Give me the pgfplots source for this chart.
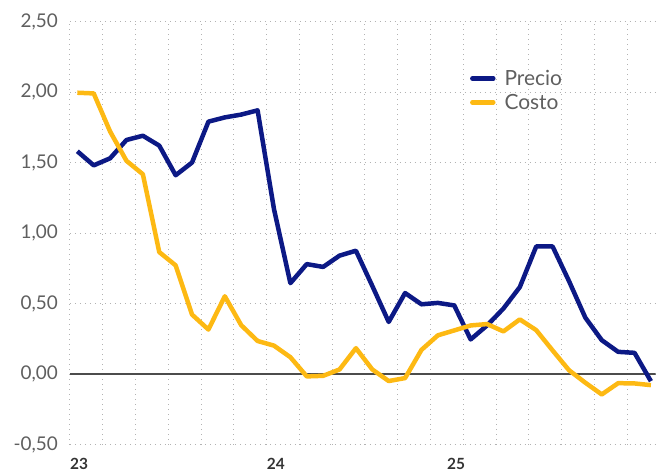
\documentclass[border=0pt]{standalone}
\usepackage{pgfplots}
\pgfplotsset{compat=1.18}
\usepackage{fontspec}
\setmainfont{Lato}
\definecolor{precio}{RGB}{12,25,133}
\definecolor{costo}{RGB}{253,185,19}
\definecolor{ticktext}{RGB}{95,95,95}
\begin{document}
\begin{tikzpicture}
\begin{axis}[
  scale only axis, width=586bp, height=423.5bp,
  xmin=0, xmax=35.73, ymin=-0.5, ymax=2.5,
  axis line style={draw=none},
  xtick={0,2,4,6,8,10,12,14,16,18,20,22,24,26,28,30,32,34},
  xticklabels={},
  extra x ticks={0,12,23},
  extra x tick labels={23,24,25},
  extra x tick style={grid=none, major tick length=0pt,
    xticklabel style={anchor=north west, inner sep=0pt, yshift=-13bp,
      font=\fontsize{15.5}{15.5}\selectfont\bfseries, text=black!80}},
  ytick={-0.5,0,0.5,1,1.5,2,2.5},
  yticklabels={{-0,50},{0,00},{0,50},{1,00},{1,50},{2,00},{2,50}},
  yticklabel style={font=\fontsize{19}{19}\selectfont, text=ticktext, anchor=east, inner sep=0pt, xshift=-12bp},
  major tick length=0pt,
  grid=major,
  major grid style={black!30, line width=1bp, dash pattern=on 1bp off 4bp},
  legend style={draw=none, fill=none, at={(0.683,0.89)}, anchor=north west,
    font=\fontsize{21}{21}\selectfont, text=ticktext, row sep=3bp, inner sep=0pt,
    cells={anchor=west},
    /tikz/every odd column/.append style={column sep=7bp}},
  legend image code/.code={\draw[#1, line width=4.5bp, line cap=round] (0bp,0bp) -- (21bp,0bp);},
  line join=round,
]
\addplot[black!70, line width=1.3bp, forget plot] coordinates {(0,0) (35.73,0)};
\addplot[precio, line width=4.5bp] coordinates {
(0.45,1.58) (1.45,1.48) (2.45,1.53) (3.45,1.66) (4.45,1.69) (5.45,1.62)
(6.45,1.41) (7.45,1.50) (8.45,1.79) (9.45,1.82) (10.45,1.84) (11.45,1.87)
(12.45,1.17) (13.45,0.645) (14.45,0.78) (15.45,0.76) (16.45,0.84) (17.45,0.875)
(18.45,0.625) (19.45,0.37) (20.45,0.575) (21.45,0.495) (22.45,0.505) (23.45,0.487)
(24.45,0.246) (25.45,0.345) (26.45,0.465) (27.45,0.617) (28.45,0.905) (29.45,0.905)
(30.45,0.66) (31.45,0.40) (32.45,0.241) (33.45,0.158) (34.45,0.151) (35.45,-0.05)
};
\addlegendentry{Precio}
\addplot[costo, line width=4.5bp] coordinates {
(0.45,1.995) (1.45,1.99) (2.45,1.72) (3.45,1.512) (4.45,1.417) (5.45,0.865)
(6.45,0.771) (7.45,0.422) (8.45,0.316) (9.45,0.552) (10.45,0.347) (11.45,0.235)
(12.45,0.202) (13.45,0.12) (14.45,-0.016) (15.45,-0.012) (16.45,0.033) (17.45,0.184)
(18.45,0.033) (19.45,-0.049) (20.45,-0.028) (21.45,0.172) (22.45,0.275) (23.45,0.31)
(24.45,0.345) (25.45,0.355) (26.45,0.303) (27.45,0.388) (28.45,0.312) (29.45,0.168)
(30.45,0.028) (31.45,-0.061) (32.45,-0.144) (33.45,-0.064) (34.45,-0.066) (35.45,-0.078)
};
\addlegendentry{Costo}
\coordinate (bl) at (rel axis cs:0,0);
\coordinate (tr) at (rel axis cs:1,1);
\end{axis}
\path ([shift={(-70bp,-28bp)}]bl) rectangle ([shift={(0bp,21.5bp)}]tr);
\end{tikzpicture}
\end{document}
